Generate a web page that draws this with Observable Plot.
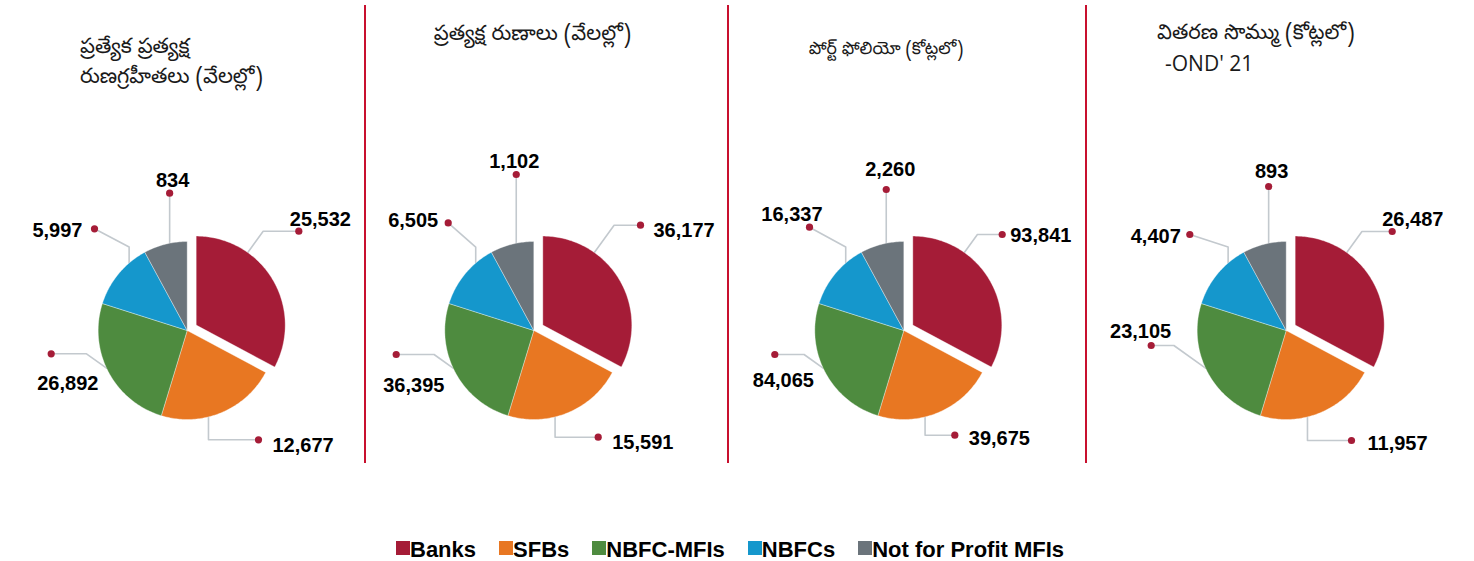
<!DOCTYPE html>
<html>
<head>
<meta charset="utf-8">
<script src="https://cdn.jsdelivr.net/npm/d3@7"></script>
<script src="https://cdn.jsdelivr.net/npm/@observablehq/plot@0.6"></script>
<style>
  body { margin: 0; background: #fff; }
  #wrap { position: relative; width: 1474px; height: 561px; overflow: hidden; background: #fff; }
  .panel { position: absolute; top: 0; }
  .panel svg { display: block; background: transparent; }
  .divider { position: absolute; top: 5px; height: 458px; width: 1.6px; background: #C8102E; }
  .title { position: absolute; white-space: nowrap; color: #1a1a1a; font-family: "Noto Sans Telugu", "Noto Sans", "Open Sans", sans-serif; font-size: 21px; line-height: 26px; z-index: 2; }
  #legendbox { position: absolute; left: 396px; top: 533px; z-index: 2; }
  #legendbox span[class$="-swatch"] { margin-right: 23px !important; align-items: center !important; font: bold 22px "Liberation Sans", Arial, sans-serif !important; color: #000; }
  #legendbox span[class$="-swatch"] > svg { margin-right: 0 !important; margin-top: -4px; }
</style>
</head>
<body>
<div id="wrap"></div>
<script>
// ---------- data ----------
const categories = ["Banks", "SFBs", "NBFC-MFIs", "NBFCs", "Not for Profit MFIs"];
// share of each slice as drawn in the pies (%), identical in all four panels
const sliceShare = [32.8, 21.9, 25.2, 12.2, 7.9];
const borrowersThousands = [25532, 12677, 26892, 5997, 834];
const loansThousands = [36177, 15591, 36395, 6505, 1102];
const portfolioCrore = [93841, 39675, 84065, 16337, 2260];
const disbursementCrore = [26487, 11957, 23105, 4407, 893];
const panelTitles = [
  ["ప్రత్యేక ప్రత్యక్ష", "రుణగ్రహీతలు (వేలల్లో)"],
  ["ప్రత్యక్ష రుణాలు (వేలల్లో)"],
  ["పోర్ట్ ఫోలియో (కోట్లలో)"],
  ["వితరణ సొమ్ము (కోట్లలో)", "-OND' 21"]
];
const panelValues = [borrowersThousands, loansThousands, portfolioCrore, disbursementCrore];

// ---------- styles / layout ----------
const colors = ["#A51C37", "#E87722", "#4E8B3F", "#1597CC", "#6B747B"];
const dotColor = "#A51C37";
const leaderColor = "#C3C9CE";
const U = 89;          // pixels per pie radius
const H = 470;         // svg height
const CY = 330;        // pie centre y
const panels = [
  {left: 0,    width: 364, cx: 186.7, title: {left: 80, top: 36, step: 30}},
  {left: 364,  width: 363, cx: 169.3, title: {center: 532.5, top: 23}},
  {left: 727,  width: 358, cx: 176.3, title: {center: 886, top: 38, size: 17.5}},
  {left: 1085, width: 389, cx: 200.7, title: {left: 1157, top: 22, step: 28, subIndent: 8}}
];
// leader geometry (screen pixels relative to pie centre), per panel end points
const leaderSpec = [
  {frac: 0.30, kind: "diag", slope: 0.72},
  {frac: 0.61, kind: "vert"},
  {frac: 0.53, kind: "diag", slope: 1.4},
  {frac: 0.72, kind: "risediag", rise: 16},
  {frac: 0.60, kind: "up"}
];
const leaderEnds = [
  [[111.6, -99.3], [71.3, 109.3], [-136, 23.3], [-92.7, -101.7], [0, -137.3]],
  [[106.7, -105.3], [64.4, 106.7], [-137.6, 24], [-85.6, -107.6], [0, -156]],
  [[98.4, -96], [51, 104.7], [-129, 24], [-94.3, -103.3], [0, -141]],
  [[106, -99], [65.3, 110], [-135, 15], [-96.4, -96], [0, -144]]
];
const labelPlace = [
  [["start", -9, -12], ["start", 14, 6], ["start", -14, 30], ["end", -12, 2], ["middle", 3, -13]],
  [["start", 13, 5.5], ["start", 14, 5.5], ["start", -13, 31], ["end", -10, -2], ["middle", -2, -13]],
  [["start", 8, 1], ["start", 14, 3.5], ["start", -22, 26], ["end", 13, -12.5], ["middle", 4, -20]],
  [["start", -10, -12], ["start", 16, 3.5], ["end", 20, -13.5], ["end", -9, 2], ["middle", 3, -14.5]]
];
const EXPLODE = 10.5; // px offset of the Banks slice

const fmt = d3.format(",");
const wrap = document.getElementById("wrap");

function buildPanel(pi) {
  const lay = panels[pi];
  const values = panelValues[pi];
  const arcs = d3.pie().sort(null).value(d => d)(sliceShare);

  // slice polygons
  const poly = [];
  const offsets = [];
  arcs.forEach((a, i) => {
    const mid = (a.startAngle + a.endAngle) / 2;
    const off = i === 0 ? EXPLODE / U : 0;
    const ox = off * Math.sin(mid), oy = off * Math.cos(mid);
    offsets.push([ox, oy]);
    const n = Math.max(4, Math.ceil((a.endAngle - a.startAngle) * 180 / Math.PI));
    poly.push({cat: categories[i], x: ox, y: oy});
    for (let j = 0; j <= n; j++) {
      const t = a.startAngle + (a.endAngle - a.startAngle) * j / n;
      poly.push({cat: categories[i], x: ox + Math.sin(t), y: oy + Math.cos(t)});
    }
    poly.push({cat: categories[i], x: ox, y: oy});
  });

  // leaders
  const leaders = [], dots = [], labels = [];
  arcs.forEach((a, i) => {
    const s = leaderSpec[i];
    const [dx, dy] = leaderEnds[pi][i];
    const t = a.startAngle + (a.endAngle - a.startAngle) * s.frac;
    const sx = (offsets[i][0] + Math.sin(t)) * U;
    const sy = -(offsets[i][1] + Math.cos(t)) * U;
    let pts;
    if (s.kind === "diag") {
      const ex = sx + Math.sign(dx - sx) * s.slope * Math.abs(dy - sy);
      pts = [[sx, sy], [ex, dy], [dx, dy]];
    } else if (s.kind === "vert") {
      pts = [[sx, sy], [sx, dy], [dx, dy]];
    } else if (s.kind === "risediag") {
      pts = [[sx, sy], [sx, sy - s.rise], [dx, dy]];
    } else {
      pts = [[sx, sy], [sx, dy]];
    }
    pts.forEach(p => leaders.push({cat: categories[i], x: p[0] / U, y: -p[1] / U}));
    const end = pts[pts.length - 1];
    dots.push({cat: categories[i], x: end[0] / U, y: -end[1] / U});
    const [anchor, ldx, ldy] = labelPlace[pi][i];
    labels.push({
      text: fmt(values[i]),
      anchor,
      x: (end[0] + ldx) / U,
      y: -(end[1] + ldy) / U
    });
  });

  const textOpts = a => ({
    x: "x", y: "y", text: "text", textAnchor: a, lineAnchor: "middle",
    fontSize: 20, fontWeight: "bold", fill: "#000",
    fontFamily: "'Liberation Sans', Arial, sans-serif"
  });

  const chart = Plot.plot({
    width: lay.width,
    height: H,
    margin: 0,
    style: {background: "transparent", overflow: "visible"},
    x: {domain: [-lay.cx / U, (lay.width - lay.cx) / U], axis: null},
    y: {domain: [-(H - CY) / U, CY / U], axis: null},
    color: {domain: categories, range: colors},
    marks: [
      Plot.line(leaders, {x: "x", y: "y", z: "cat", stroke: leaderColor, strokeWidth: 1.6, curve: "linear"}),
      Plot.line(poly, {x: "x", y: "y", z: "cat", fill: "cat", stroke: "#ffffff", strokeWidth: 0.5, strokeOpacity: 0.7, curve: "linear"}),
      Plot.dot(dots, {x: "x", y: "y", r: 3.6, fill: dotColor, stroke: "none"}),
      Plot.text(labels.filter(d => d.anchor === "start"), textOpts("start")),
      Plot.text(labels.filter(d => d.anchor === "end"), textOpts("end")),
      Plot.text(labels.filter(d => d.anchor === "middle"), textOpts("middle"))
    ]
  });

  const div = document.createElement("div");
  div.className = "panel";
  div.style.left = lay.left + "px";
  div.style.width = lay.width + "px";
  div.appendChild(chart);
  wrap.appendChild(div);

  if (pi > 0) {
    const d = document.createElement("div");
    d.className = "divider";
    d.style.left = lay.left + "px";
    wrap.appendChild(d);
  }

  // titles
  const tb = lay.title;
  panelTitles[pi].forEach((line, li) => {
    const t = document.createElement("div");
    t.className = "title";
    t.textContent = line;
    t.style.top = (tb.top + li * (tb.step || 26)) + "px";
    if (tb.size) t.style.fontSize = tb.size + "px";
    if (tb.center != null) {
      t.style.left = tb.center + "px";
      t.style.transform = "translateX(-50%)";
    } else {
      t.style.left = (tb.left + (li > 0 && tb.subIndent ? tb.subIndent : 0)) + "px";
    }
    if (/^[\x00-\x7F]+$/.test(line)) t.style.fontFamily = "'Open Sans', sans-serif";
    wrap.appendChild(t);
  });
}

panels.forEach((_, i) => buildPanel(i));

// legend
const legendBox = document.createElement("div");
legendBox.id = "legendbox";
legendBox.appendChild(Plot.legend({
  legend: "swatches",
  color: {domain: categories, range: colors},
  swatchSize: 14,
  className: "lg"
}));
wrap.appendChild(legendBox);
</script>
</body>
</html>
